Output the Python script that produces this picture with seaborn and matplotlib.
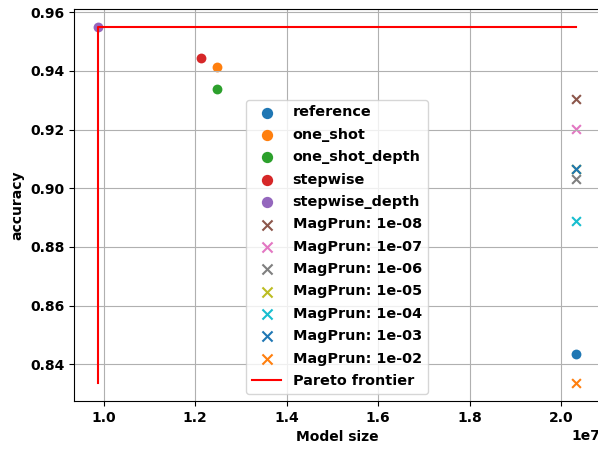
import numpy as np
import pandas as pd
import matplotlib
matplotlib.use('Agg')
import matplotlib.pyplot as plt
import seaborn as sns

# Values
methods = ['reference', 'one_shot', 'one_shot_depth', 'stepwise', 'stepwise_depth']
method_size = [2.033e7, 1.247e7, 1.247e7, 1.213e7, 0.9876e7]
method_acc = [0.8437, 0.9412, 0.9339, 0.9444, 0.9550]

thresholds = ['1e-08', '1e-07', '1e-06', '1e-05', '1e-04', '1e-03', '1e-02']
magprun_size = [2.033e7] * 7
magprun_acc = [0.9304, 0.9201, 0.9030, 0.9067, 0.8890, 0.9067, 0.8336]

plt.rcParams['font.weight'] = 'bold'
plt.rcParams['axes.labelweight'] = 'bold'

fig = plt.figure(figsize=(5.98, 4.5), dpi=100)
ax = fig.add_axes([74 / 598, 49 / 450, 526 / 598, 392 / 450])

palette = plt.rcParams['axes.prop_cycle'].by_key()['color']
k = 0
for name, xs, ys in zip(methods, method_size, method_acc):
    sns.scatterplot(x=[xs], y=[ys], color=palette[k % 10], marker='o', s=50,
                    label=name, ax=ax, linewidth=0)
    k += 1
for th, xs, ys in zip(thresholds, magprun_size, magprun_acc):
    sns.scatterplot(x=[xs], y=[ys], color=palette[k % 10], marker='x', s=40,
                    label=f'MagPrun: {th}', ax=ax, linewidth=1.5)
    k += 1

# Pareto frontier
all_size = np.array(method_size + magprun_size)
all_acc = np.array(method_acc + magprun_acc)
best = np.argmax(all_acc)
ax.plot([all_size[best], all_size[best], all_size.max()],
        [all_acc.min(), all_acc[best], all_acc[best]],
        color='red', label='Pareto frontier')

ax.set_xlabel('Model size')
ax.set_ylabel('accuracy')
ax.grid(True)
ax.legend(loc='lower center', fontsize=10.4, markerscale=1.15, labelspacing=0.58)
fig.savefig('out.png', dpi=100)
